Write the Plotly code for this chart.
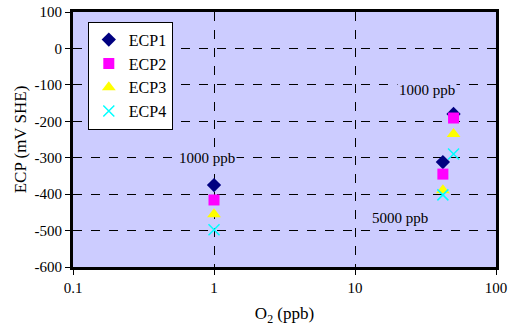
import plotly.graph_objects as go

o2 = [1, 42, 50]
ecp1 = [-375, -312, -180]
ecp2 = [-416, -345, -191]
ecp3 = [-455, -389, -235]
ecp4 = [-498, -402, -290]

y_ticks = [100, 0, -100, -200, -300, -400, -500, -600]
y_labels = ["100", "0", "-100", "-200", "-300", "-400", "-500", "-600"]
x_ticks = [0.1, 1, 10, 100]
x_labels = ["0.1", "1", "10", "100"]

series = [
    ("ECP1", ecp1, "diamond", "#000080", 11),
    ("ECP2", ecp2, "square", "#FF00FF", 11),
    ("ECP3", ecp3, "triangle-up", "#FFFF00", 12),
    ("ECP4", ecp4, "x-thin-open", "#00FFFF", 11),
]

fig = go.Figure()
for name, ys, sym, col, sz in series:
    marker = dict(symbol=sym, color=col, size=sz)
    if sym == "x-thin-open":
        marker["line"] = dict(color=col, width=1.5)
    else:
        marker["line"] = dict(width=0)
    fig.add_trace(go.Scatter(x=o2, y=ys, mode="markers", name=name, legendgroup=name, marker=marker))

FAM = "Liberation Serif"
F = dict(family=FAM, size=15, color="black")
FT = dict(family=FAM, size=17, color="black")

fig.update_layout(
    width=510, height=328,
    margin=dict(l=73, r=14, t=12, b=61, autoexpand=False),
    paper_bgcolor="white",
    plot_bgcolor="#CCCCFF",
    font=F,
    showlegend=True,
    legend=dict(x=0.035, y=0.962, xanchor="left", yanchor="top",
                bgcolor="white", bordercolor="black", borderwidth=1,
                font=dict(family=FAM, size=16, color="black"), tracegroupgap=0, itemwidth=30),
    xaxis=dict(type="log", range=[-1, 2], tickvals=x_ticks, ticktext=x_labels, tickfont=F,
               showgrid=True, gridcolor="black", griddash="dash", gridwidth=1,
               showline=True, linecolor="black", linewidth=3, mirror=True,
               ticks="outside", ticklen=5, tickcolor="black", automargin=False,
               title=dict(text="O<sub>2</sub> (ppb)", standoff=13, font=FT),
               zeroline=False),
    yaxis=dict(range=[-600, 100], tickvals=y_ticks, ticktext=y_labels, tickfont=F,
               showgrid=True, gridcolor="black", griddash="dash", gridwidth=1,
               showline=True, linecolor="black", linewidth=3, mirror=True,
               ticks="outside", ticklen=5, tickcolor="black", automargin=False,
               title=dict(text="ECP (mV SHE)", standoff=4, font=FT),
               zeroline=False),
    annotations=[
        dict(x=-0.05, y=-301, xref="x", yref="y", text="1000 ppb", showarrow=False,
             bgcolor="#CCCCFF", font=F),
        dict(x=1.51, y=-114, xref="x", yref="y", text="1000 ppb", showarrow=False,
             bgcolor="#CCCCFF", font=F),
        dict(x=1.32, y=-465, xref="x", yref="y", text="5000 ppb", showarrow=False,
             bgcolor="#CCCCFF", font=F),
    ],
)

fig.write_html("out.html")
